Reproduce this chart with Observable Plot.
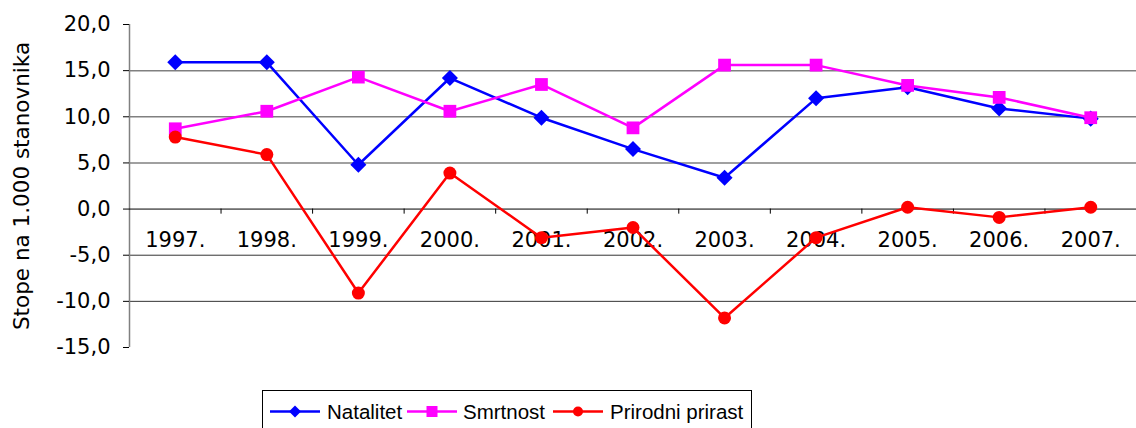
<!DOCTYPE html>
<html><head><meta charset="utf-8">
<script src="https://cdn.jsdelivr.net/npm/d3@7"></script>
<script src="https://cdn.jsdelivr.net/npm/@observablehq/plot@0.6"></script>
<style>
body{margin:0;background:#fff;}
#chart{position:relative;width:1136px;height:428px;overflow:hidden;background:#fff;}
#chart svg{display:block;}
</style>
</head><body><div id="chart"></div>
<script>
const years = [1997, 1998, 1999, 2000, 2001, 2002, 2003, 2004, 2005, 2006, 2007];
const natalitet = [15.9, 15.9, 4.8, 14.2, 9.9, 6.5, 3.4, 12.0, 13.2, 10.9, 9.8];
const smrtnost = [8.7, 10.6, 14.3, 10.6, 13.5, 8.8, 15.6, 15.6, 13.4, 12.1, 9.9];
const prirast = [7.8, 5.9, -9.1, 3.9, -3.1, -2.0, -11.8, -3.1, 0.2, -0.9, 0.2];
const yTicks = [-15, -10, -5, 0, 5, 10, 15, 20];
const seriesNames = ["Natalitet", "Smrtnost", "Prirodni prirast"];
const seriesColors = ["#0000ff", "#ff00ff", "#ff0000"];
const yTitle = "Stope na 1.000 stanovnika";

const rows = years.map((year, i) => ({year, natalitet: natalitet[i], smrtnost: smrtnost[i], prirast: prirast[i]}));
const boundaries = years.map(y => y + 0.5).slice(0, -1);
const diamond = {draw(ctx, size) {
  const h = Math.sqrt(size / 2);
  ctx.moveTo(0, -h); ctx.lineTo(h, 0); ctx.lineTo(0, h); ctx.lineTo(-h, 0); ctx.closePath();
}};
const fmt = d => d.toFixed(1).replace(".", ",");

const plot = Plot.plot({
  width: 1136, height: 388,
  marginTop: 24, marginBottom: 41, marginLeft: 129, marginRight: 0,
  style: {fontFamily: "DejaVu Sans", fontSize: "21px", background: "#fff", color: "#000", overflow: "visible"},
  x: {domain: [years[0] - 0.5, years[years.length - 1] + 0.5], axis: null},
  y: {domain: [-15, 20], axis: null, label: null},
  marks: [
    Plot.ruleY(yTicks.filter(v => v > 0 && v < 20), {stroke: "#808080", strokeWidth: 1.5}),
    Plot.ruleY(yTicks.filter(v => v < 0 && v > -15), {stroke: "#333"}),
    Plot.ruleX([years[0] - 0.5], {y1: -15, y2: 20, stroke: "#808080", strokeWidth: 1.5}),
    Plot.ruleY([0], {stroke: "#000"}),
    Plot.ruleX(boundaries, {y1: 0, y2: -0.55, stroke: "#000"}),
    Plot.axisY({ticks: yTicks, tickFormat: fmt, tickSize: 6, tickPadding: 13, fontSize: 21, label: null}),
    Plot.text(years, {x: d => d, y: 0, text: d => d + ".", dy: 31, fontSize: 21}),
    Plot.text([yTitle], {frameAnchor: "left", textAnchor: "middle", text: d => d, rotate: -90, dx: -107, fontSize: 21.5}),
    Plot.line(rows, {x: "year", y: "natalitet", stroke: seriesColors[0], strokeWidth: 2.5}),
    Plot.dot(rows, {x: "year", y: "natalitet", symbol: diamond, r: 6.4, fill: seriesColors[0], stroke: "none"}),
    Plot.line(rows, {x: "year", y: "smrtnost", stroke: seriesColors[1], strokeWidth: 2.5}),
    Plot.dot(rows, {x: "year", y: "smrtnost", symbol: "square", r: 7.2, fill: seriesColors[1], stroke: "none"}),
    Plot.line(rows, {x: "year", y: "prirast", stroke: seriesColors[2], strokeWidth: 2.5}),
    Plot.dot(rows, {x: "year", y: "prirast", symbol: "circle", r: 6.5, fill: seriesColors[2], stroke: "none"})
  ]
});
document.getElementById("chart").appendChild(plot);

// Legend below the plot
const leg = d3.select("#chart").append("svg").attr("width", 1136).attr("height", 40);
leg.append("rect").attr("x", 262.5).attr("y", 2.5).attr("width", 489).attr("height", 60)
  .attr("fill", "#fff").attr("stroke", "#000");
const legItems = [
  {x0: 270, x1: 320, tx: 327, sym: diamond, size: 72},
  {x0: 407, x1: 457, tx: 463, sym: d3.symbolSquare, size: 121},
  {x0: 553, x1: 603, tx: 610, sym: d3.symbolCircle, size: Math.PI * 25}
];
const cy = 23.5;
legItems.forEach((it, i) => {
  leg.append("line").attr("x1", it.x0).attr("x2", it.x1).attr("y1", cy).attr("y2", cy)
    .attr("stroke", seriesColors[i]).attr("stroke-width", 2.5);
  leg.append("path").attr("d", d3.symbol(it.sym, it.size)())
    .attr("transform", `translate(${(it.x0 + it.x1) / 2},${cy})`).attr("fill", seriesColors[i]);
  leg.append("text").attr("x", it.tx).attr("y", cy).attr("dy", "0.35em")
    .attr("font-family", "Liberation Sans, Arial, sans-serif").attr("font-size", 20.5)
    .attr("fill", "#000").text(seriesNames[i]);
});
</script>
</body></html>
